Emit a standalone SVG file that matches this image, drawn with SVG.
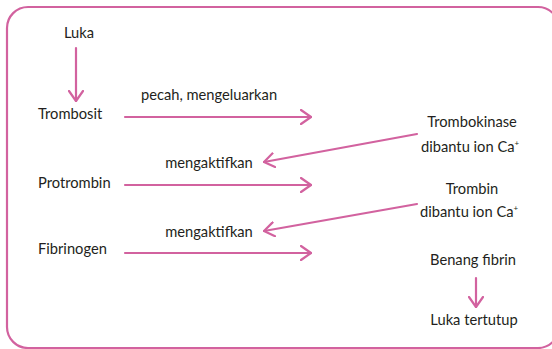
<svg xmlns="http://www.w3.org/2000/svg" width="552" height="349" viewBox="0 0 552 349">
<defs>
<style>
.t{font-family:Lato,"Open Sans","Liberation Sans",sans-serif;font-size:14.7px;fill:#231f20}
.c{stroke:#d2629f;stroke-width:2.2;fill:none;stroke-linecap:round;stroke-linejoin:round}
.sup{font-size:8px}
</style>
<marker id="ah" viewBox="0 0 12 16" refX="11" refY="8" markerWidth="12" markerHeight="16" markerUnits="userSpaceOnUse" orient="auto">
<path d="M1,1 L11,8 L1,15" fill="none" stroke="#d2629f" stroke-width="2.2" stroke-linecap="round" stroke-linejoin="round"/>
</marker>
</defs>
<rect x="7" y="7" width="552" height="341" rx="21" ry="21" fill="#fff" stroke="#d2629f" stroke-width="2.2"/>
<g id="luka"><text class="t" x="79" y="38" text-anchor="middle">Luka</text></g>
<g id="trombosit"><text class="t" x="38" y="119">Trombosit</text></g>
<g id="protrombin"><text class="t" x="38" y="188">Protrombin</text></g>
<g id="fibrinogen"><text class="t" x="38" y="254">Fibrinogen</text></g>
<g id="trombokinase"><text class="t" x="472" y="127" text-anchor="middle">Trombokinase</text><text class="t" x="421" y="152">dibantu ion Ca<tspan class="sup" dy="-6">+</tspan></text></g>
<g id="trombin"><text class="t" x="472" y="194" text-anchor="middle">Trombin</text><text class="t" x="420" y="217">dibantu ion Ca<tspan class="sup" dy="-6">+</tspan></text></g>
<g id="benang"><text class="t" x="473" y="265" text-anchor="middle">Benang fibrin</text></g>
<g id="tertutup"><text class="t" x="474" y="325" text-anchor="middle">Luka tertutup</text></g>
<g id="labels">
<text class="t" x="209" y="100" text-anchor="middle">pecah, mengeluarkan</text>
<text class="t" x="209" y="168" text-anchor="middle">mengaktifkan</text>
<text class="t" x="209" y="237" text-anchor="middle">mengaktifkan</text>
</g>
<g id="connectors" class="c">
<line x1="76" y1="48" x2="76" y2="101" marker-end="url(#ah)"/>
<line x1="125" y1="117" x2="311" y2="117" marker-end="url(#ah)"/>
<line x1="417" y1="134" x2="264" y2="162" marker-end="url(#ah)"/>
<line x1="125" y1="185" x2="311" y2="185" marker-end="url(#ah)"/>
<line x1="417" y1="204" x2="264" y2="231" marker-end="url(#ah)"/>
<line x1="125" y1="253" x2="311" y2="253" marker-end="url(#ah)"/>
<line x1="476" y1="278" x2="476" y2="307" marker-end="url(#ah)"/>
</g>
</svg>
